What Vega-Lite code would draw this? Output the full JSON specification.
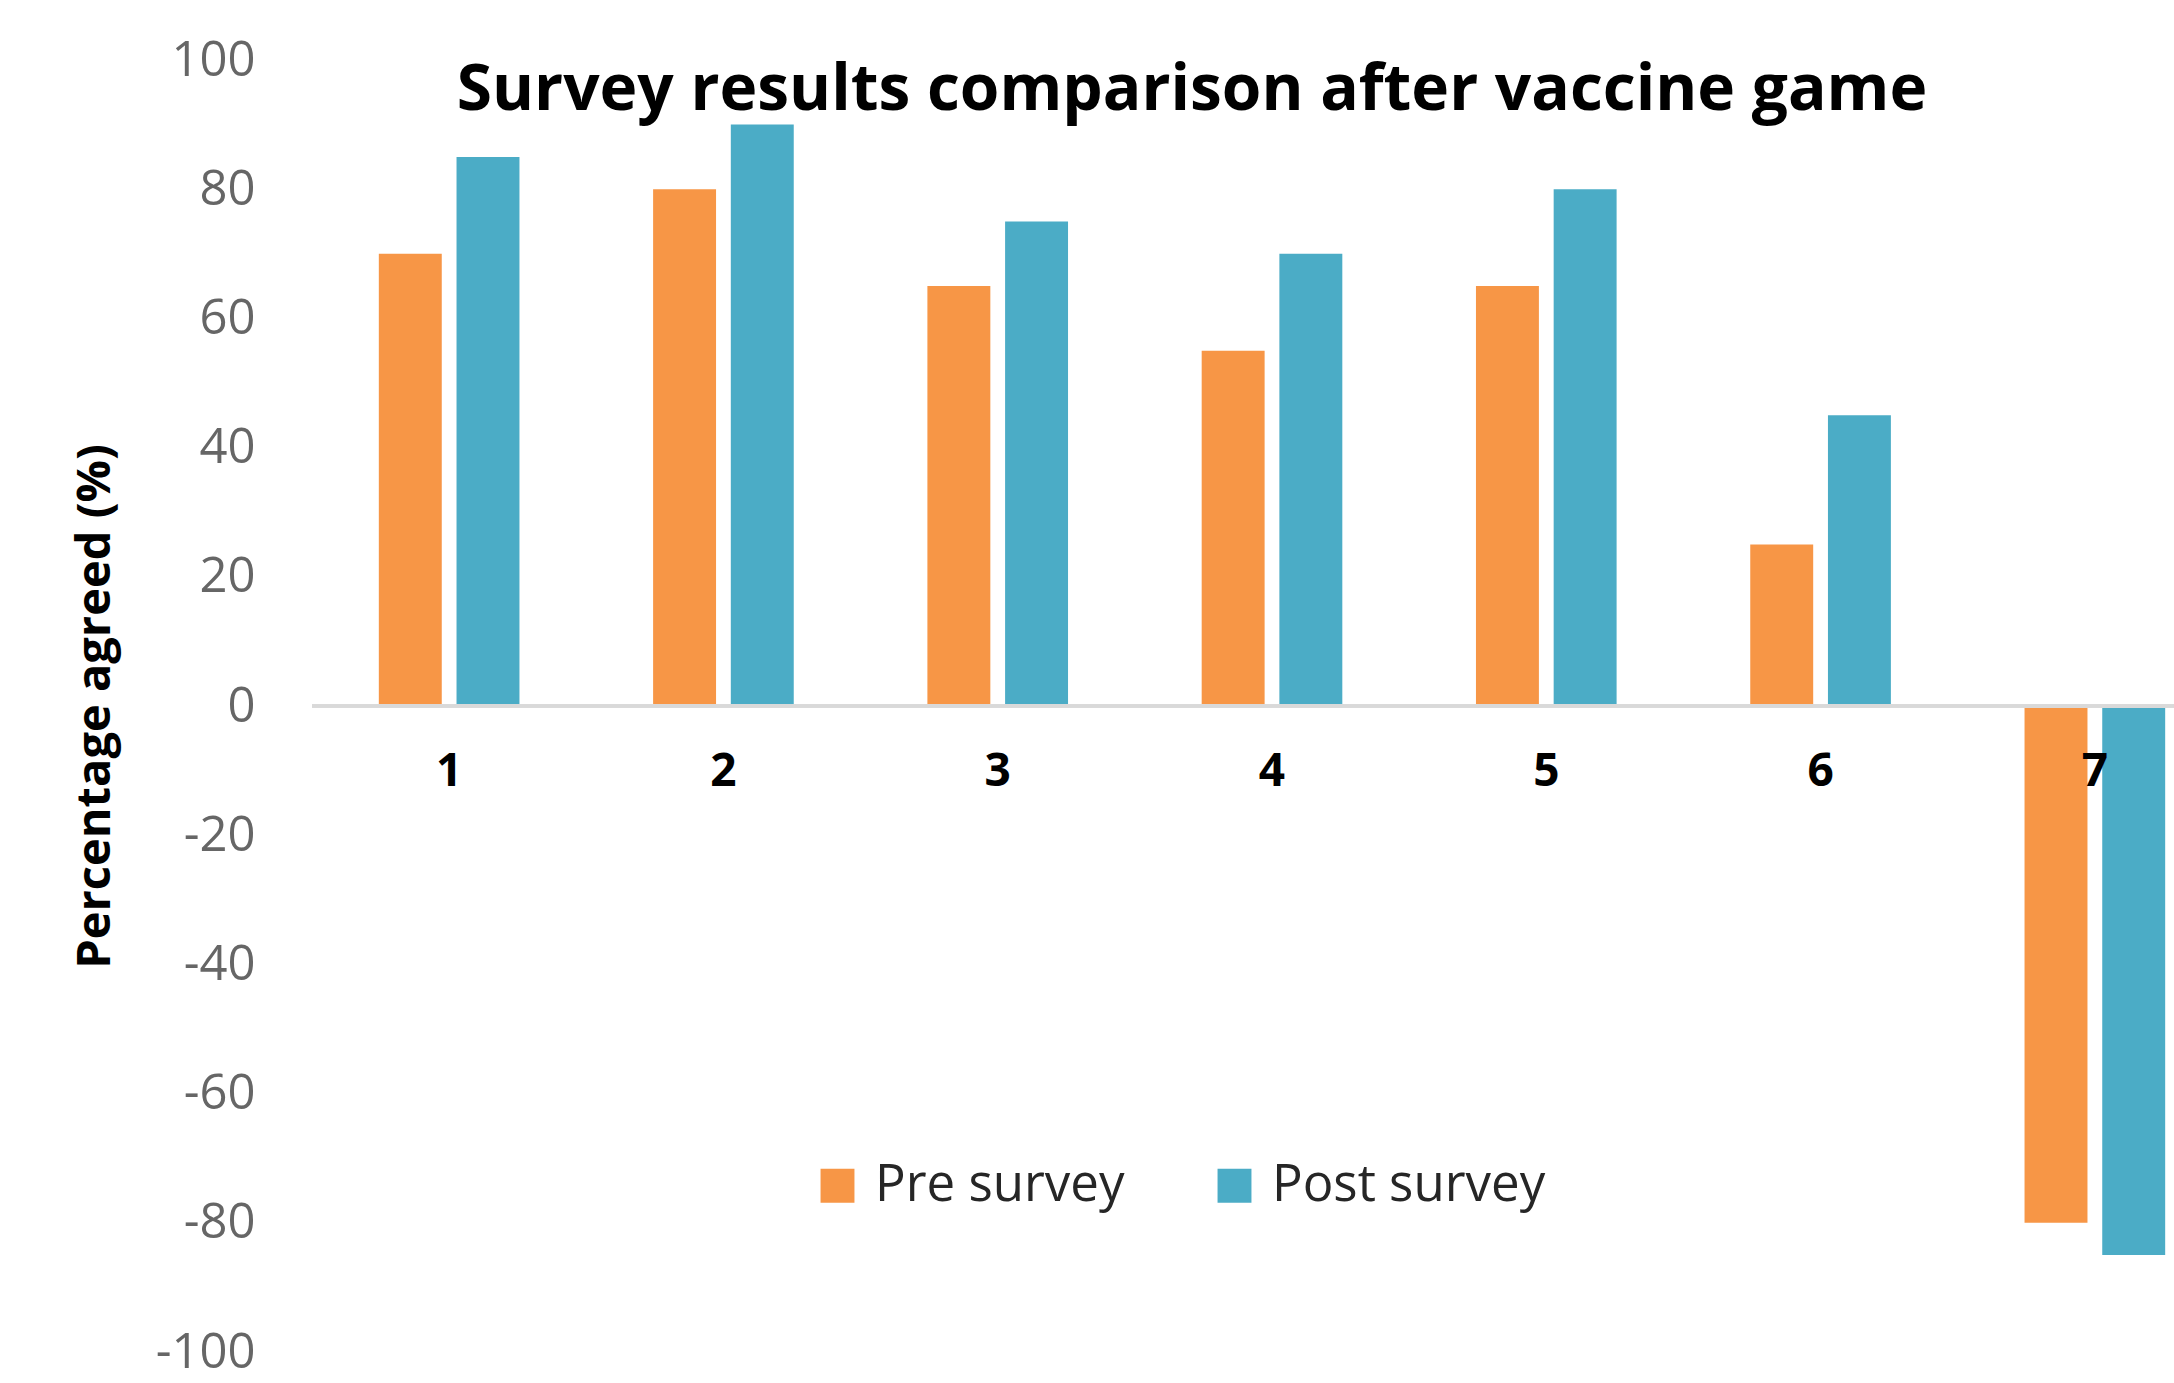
{
  "$schema": "https://vega.github.io/schema/vega-lite/v6.json",
  "autosize": "none",
  "padding": {"left": 312, "top": 60, "right": 0, "bottom": 31},
  "width": 1862,
  "height": 1292,
  "background": "white",
  "config": {"view": {"stroke": null}},
  "title": {
    "text": "Survey results comparison after vaccine game",
    "font": "Open Sans",
    "fontSize": 64,
    "fontWeight": "bold",
    "color": "#000000",
    "anchor": "middle",
    "baseline": "alphabetic",
    "offset": 0,
    "dy": 138,
    "dx": -51
  },
  "data": {
    "values": [
      {"q": "1", "survey": "Pre survey", "value": 70},
      {"q": "1", "survey": "Post survey", "value": 85},
      {"q": "2", "survey": "Pre survey", "value": 80},
      {"q": "2", "survey": "Post survey", "value": 90},
      {"q": "3", "survey": "Pre survey", "value": 65},
      {"q": "3", "survey": "Post survey", "value": 75},
      {"q": "4", "survey": "Pre survey", "value": 55},
      {"q": "4", "survey": "Post survey", "value": 70},
      {"q": "5", "survey": "Pre survey", "value": 65},
      {"q": "5", "survey": "Post survey", "value": 80},
      {"q": "6", "survey": "Pre survey", "value": 25},
      {"q": "6", "survey": "Post survey", "value": 45},
      {"q": "7", "survey": "Pre survey", "value": -80},
      {"q": "7", "survey": "Post survey", "value": -85}
    ]
  },
  "encoding": {
    "x": {
      "field": "q",
      "type": "nominal",
      "sort": ["1", "2", "3", "4", "5", "6", "7"],
      "scale": {"range": [0, 1920], "paddingInner": 0, "paddingOuter": 0},
      "axis": null
    }
  },
  "layer": [
    {
      "mark": {"type": "bar"},
      "encoding": {
        "xOffset": {
          "field": "survey",
          "type": "nominal",
          "sort": ["Pre survey", "Post survey"],
          "scale": {"paddingInner": 0.19, "paddingOuter": 0.86}
        },
        "y": {
          "field": "value",
          "type": "quantitative",
          "scale": {"domain": [-100, 100], "nice": false, "zero": true},
          "axis": {
            "title": "Percentage agreed (%)",
            "values": [-100, -80, -60, -40, -20, 0, 20, 40, 60, 80, 100],
            "labelExpr": "toString(datum.value)",
            "domain": false,
            "ticks": false,
            "grid": false,
            "labelFont": "Open Sans",
            "labelFontSize": 49,
            "labelColor": "#666666",
            "labelPadding": 57,
            "titleFont": "Open Sans",
            "titleFontSize": 47,
            "titleFontWeight": "bold",
            "titleColor": "#000000",
            "titleAngle": -90,
            "titleX": -217,
            "titleY": 646,
            "titleAlign": "center",
            "titleBaseline": "middle"
          }
        },
        "color": {
          "field": "survey",
          "type": "nominal",
          "sort": ["Pre survey", "Post survey"],
          "scale": {"domain": ["Pre survey", "Post survey"], "range": ["#F79646", "#4BACC6"]},
          "legend": {
            "title": null,
            "orient": "none",
            "legendX": 500,
            "legendY": 1100,
            "direction": "horizontal",
            "symbolType": "square",
            "symbolSize": 1150,
            "symbolStrokeWidth": 0,
            "labelFont": "Open Sans",
            "labelFontSize": 51,
            "labelColor": "#262626",
            "labelOffset": 12,
            "columnPadding": 84,
            "labelLimit": 400
          }
        }
      }
    },
    {
      "mark": {"type": "rule", "color": "#d9d9d9", "strokeWidth": 3},
      "encoding": {"y": {"datum": 0}, "x": null}
    },
    {
      "transform": [{"filter": "datum.survey === 'Pre survey'"}],
      "mark": {
        "type": "text",
        "font": "Open Sans",
        "fontSize": 46,
        "fontWeight": "bold",
        "color": "#000000",
        "baseline": "middle",
        "align": "center",
        "dy": 66
      },
      "encoding": {
        "y": {"datum": 0},
        "text": {"field": "q"}
      }
    }
  ]
}
